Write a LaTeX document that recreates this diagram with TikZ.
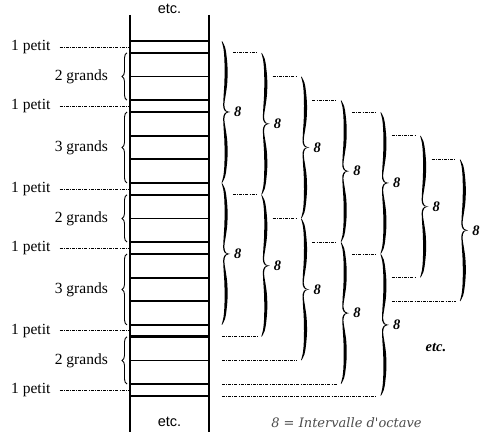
\documentclass[tikz,border=0pt]{standalone}
\usepackage{fontspec}
\setmainfont{Liberation Serif}
\newfontfamily\etcfont{Liberation Sans}
\newfontfamily\legendfont{DejaVu Serif}
\usetikzlibrary{decorations.pathreplacing}

\begin{document}
\begin{tikzpicture}[x=1pt,y=-11.83pt,
  thinrung/.style={line width=1.8pt},
  thickrung/.style={line width=2.8pt},
  dashdot/.style={line width=0.7pt,dash pattern=on 3pt off 1.2pt on 0.8pt off 1.2pt},
  grandbrace/.style={decorate,decoration={brace,amplitude=5pt},line width=0.9pt},
  halfbrace/.pic={
    \fill plot[smooth,tension=0.6] coordinates {(0,0) (3,0.5) (4.6,1.3) (5.6,2.4) (5.2,3.6) (3.6,4.6) (2.3,5.4) (4,5.88) (8,6)}
      -- plot[smooth,tension=0.6] coordinates {(8,6) (4,5.97) (1.4,5.65) (1.5,4.8) (2.3,3.7) (2.6,2.5) (2.3,1.4) (1.4,0.6) (-0.3,0.05)} -- cycle;},
  octave/.pic={
    \pic {halfbrace};
    \pic[shift={(0,12)},yscale=-1] {halfbrace};},
  huit/.style={anchor=west,inner sep=0pt,font=\fontsize{14.5}{16}\selectfont\bfseries\itshape},
  lbl/.style={inner sep=0pt,font=\fontsize{15.5}{18}\selectfont}]
\useasboundingbox (0,-3.466) rectangle (500,34.40);

% the column
\draw[line width=2.3pt] (130,-2.2) -- (130,33.05);
\draw[line width=2.3pt] (209,-2.2) -- (209,33.05);
\node[inner sep=0pt,font=\etcfont\fontsize{14.5}{16}\selectfont] (etctop) at (169.5,-2.7) {etc.};
\node[inner sep=0pt,font=\etcfont\fontsize{14.5}{16}\selectfont] (etcbot) at (169.5,32.2) {etc.};

\draw[thickrung] (130,0) -- (209,0);
\draw[thinrung] (130,1) -- (209,1);
\draw[thinrung] (130,3) -- (209,3);
\draw[thinrung] (130,5) -- (209,5);
\draw[thickrung] (130,6) -- (209,6);
\draw[thinrung] (130,8) -- (209,8);
\draw[thinrung] (130,10) -- (209,10);
\draw[thickrung] (130,12) -- (209,12);
\draw[thinrung] (130,13) -- (209,13);
\draw[thinrung] (130,15) -- (209,15);
\draw[thinrung] (130,17) -- (209,17);
\draw[thickrung] (130,18) -- (209,18);
\draw[thinrung] (130,20) -- (209,20);
\draw[thinrung] (130,22) -- (209,22);
\draw[thickrung] (130,24) -- (209,24);
\draw[thickrung] (130,25) -- (209,25);
\draw[thinrung] (130,27) -- (209,27);
\draw[thickrung] (130,29) -- (209,29);
\draw[thinrung] (130,30) -- (209,30);

% petits
\node[lbl,anchor=west] (p1) at (11,0.5) {1 petit};
\node[lbl,anchor=west] (p2) at (11,5.5) {1 petit};
\node[lbl,anchor=west] (p3) at (11,12.5) {1 petit};
\node[lbl,anchor=west] (p4) at (11,17.5) {1 petit};
\node[lbl,anchor=west] (p5) at (11,24.5) {1 petit};
\node[lbl,anchor=west] (p6) at (11,29.5) {1 petit};
\coordinate (c1) at (130,0.5);
\coordinate (c2) at (130,5.5);
\coordinate (c3) at (130,12.5);
\coordinate (c4) at (130,17.5);
\coordinate (c5) at (130,24.5);
\coordinate (c6) at (130,29.5);
\draw[dashdot] ([xshift=9pt]p1.east) -- (c1);
\draw[dashdot] ([xshift=9pt]p2.east) -- (c2);
\draw[dashdot] ([xshift=9pt]p3.east) -- (c3);
\draw[dashdot] ([xshift=9pt]p4.east) -- (c4);
\draw[dashdot] ([xshift=9pt]p5.east) -- (c5);
\draw[dashdot] ([xshift=9pt]p6.east) -- (c6);

% grands
\draw[grandbrace] (127,5) -- (127,1);
\draw[grandbrace] (127,12) -- (127,6);
\draw[grandbrace] (127,17) -- (127,13);
\draw[grandbrace] (127,24) -- (127,18);
\draw[grandbrace] (127,29) -- (127,25);
\node[lbl,anchor=east] (g1) at (108,3) {2 grands};
\node[lbl,anchor=east] (g2) at (108,9) {3 grands};
\node[lbl,anchor=east] (g3) at (108,15) {2 grands};
\node[lbl,anchor=east] (g4) at (108,21) {3 grands};
\node[lbl,anchor=east] (g5) at (108,27) {2 grands};

% octaves
\pic at (222,0) {octave};
\pic at (222,12) {octave};
\node[huit] (o1a) at (234,6) {8};
\node[huit] (o1b) at (234,18) {8};

\pic at (261.7,1) {octave};
\pic at (261.7,13) {octave};
\node[huit] (o2a) at (273.7,7) {8};
\node[huit] (o2b) at (273.7,19) {8};
\draw[dashdot] (233,1) -- (257.7,1);
\draw[dashdot] (233,13) -- (257.7,13);
\draw[dashdot] (222,25) -- (257.7,25);

\pic at (301.4,3) {octave};
\pic at (301.4,15) {octave};
\node[huit] (o3a) at (313.4,9) {8};
\node[huit] (o3b) at (313.4,21) {8};
\draw[dashdot] (272.7,3) -- (297.4,3);
\draw[dashdot] (272.7,15) -- (297.4,15);
\draw[dashdot] (222,27) -- (297.4,27);

\pic at (341.1,5) {octave};
\pic at (341.1,17) {octave};
\node[huit] (o4a) at (353.1,11) {8};
\node[huit] (o4b) at (353.1,23) {8};
\draw[dashdot] (312.4,5) -- (337.1,5);
\draw[dashdot] (312.4,17) -- (337.1,17);
\draw[dashdot] (222,29) -- (337.1,29);

\pic at (380.8,6) {octave};
\pic at (380.8,18) {octave};
\node[huit] (o5a) at (392.8,12) {8};
\node[huit] (o5b) at (392.8,24) {8};
\draw[dashdot] (352.1,6) -- (376.8,6);
\draw[dashdot] (352.1,18) -- (376.8,18);
\draw[dashdot] (222,30) -- (376.8,30);

\pic at (420.5,8) {octave};
\node[huit] (o6a) at (432.5,14) {8};
\draw[dashdot] (391.8,8) -- (416.5,8);
\draw[dashdot] (391.8,20) -- (416.5,20);

\pic at (460.2,10) {octave};
\node[huit] (o7a) at (472.2,16) {8};
\draw[dashdot] (431.5,10) -- (456.2,10);
\draw[dashdot] (391.8,22) -- (456.2,22);

\node[inner sep=0pt,font=\fontsize{14.5}{16}\selectfont\bfseries\itshape] (etcright) at (436,25.95) {etc.};
\node[inner sep=0pt,text=black!70,font=\legendfont\itshape\fontsize{13}{15}\selectfont] (legend) at (346.5,32.3) {8 = Intervalle d'octave};
\end{tikzpicture}
\end{document}
